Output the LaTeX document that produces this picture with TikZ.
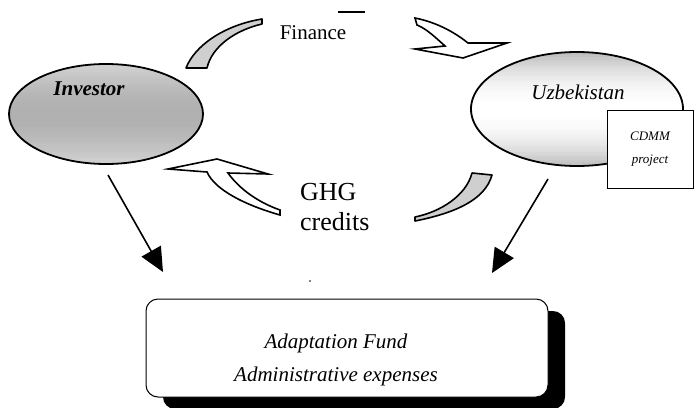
\documentclass[tikz,border=0pt]{standalone}
\usepackage{fontspec}
\setmainfont{Liberation Serif}
\usetikzlibrary{shapes.geometric,arrows.meta}
\begin{document}
\begin{tikzpicture}[x=1pt,y=-1pt,
  oval/.style={ellipse,draw,line width=1.8pt,inner sep=0pt},
  band/.style={draw,line width=1.6pt,line join=round,fill=gray!38},
  hollow/.style={draw,line width=1.6pt,line join=miter,fill=white},
  down/.style={line width=1.6pt,-{Triangle[length=24pt,width=22pt]}},
  lbl/.style={inner sep=0pt,font=\fontsize{21}{24}\selectfont}
]
\useasboundingbox (0,0) rectangle (696,407);

% graded fill of the investor oval, built from thin strips
\begin{scope}
  \clip (106,114) ellipse [x radius=97, y radius=50];
  \foreach \k in {0,...,39} {
    \pgfmathsetmacro\yy{64+\k*2.5}
    \pgfmathsetmacro\g{int(36+26*sin(\k*180/39))}
    \fill[gray!\g] (5,\yy) rectangle (210,\yy+2.6);
  }
\end{scope}
% graded fill of the Uzbekistan oval: gray rims, pale centre
\begin{scope}
  \clip (577,109) ellipse [x radius=106, y radius=57];
  \foreach \k in {0,...,45} {
    \pgfmathsetmacro\yy{52+\k*2.5}
    \pgfmathsetmacro\g{int(52*(abs(2*\k/45-1))^2)}
    \fill[gray!\g] (465,\yy) rectangle (690,\yy+2.6);
  }
\end{scope}

% the two parties
\node[oval,minimum width=194pt,minimum height=100pt] (inv) at (106,114) {};
\node[lbl,font=\fontsize{21}{24}\selectfont\bfseries\itshape] (invtxt) at (89,89) {Investor};

\node[oval,minimum width=212pt,minimum height=114pt] (uzb) at (577,109) {};
\node[lbl,font=\fontsize{21}{24}\selectfont\itshape] (uzbtxt) at (578,92) {Uzbekistan};

% project card
\node[draw,line width=1pt,fill=white,minimum width=86pt,minimum height=78pt,inner sep=0pt,
      align=center,font=\fontsize{13}{23}\selectfont\itshape] (cdmm) at (650,149)
      {CDMM\\project};

% flow labels
\node[lbl] (fin) at (313,33) {Finance};
\coordinate (dashA) at (338,12);
\coordinate (dashB) at (365,12);
\draw[line width=1.2pt] (dashA) -- (dashB);
\node[inner sep=0pt,anchor=west,align=left,font=\fontsize{26}{30}\selectfont] (ghg) at (300,207) {GHG\\credits};

% finance: gray band and open arrow
\draw[band] (186,68) .. controls (195,45) and (225,25) .. (262,19) -- (262,24)
  .. controls (236,30) and (212,46) .. (207,68) -- cycle;
\draw[hollow] (415,18) .. controls (440,23) and (458,35) .. (468,43) -- (507,43)
  -- (463,58) -- (415,49) -- (445,46) .. controls (436,38) and (427,29) .. (417,25) -- cycle;

% credits: gray band and open arrow
\draw[band] (415,217) .. controls (440,212) and (466,196) .. (472,173) -- (492,175)
  .. controls (485,200) and (455,213) .. (415,221) -- cycle;
\draw[hollow] (168,169) -- (217,159) -- (268,174) -- (228,173)
  .. controls (240,190) and (260,203) .. (280,210) -- (280,215)
  .. controls (245,205) and (215,190) .. (207,172) -- cycle;

% fund box with its shadow
\fill[black,rounded corners=12pt] (163,311) rectangle (565,409);
\node[draw,line width=1pt,fill=white,rounded corners=12pt,minimum width=402pt,
      minimum height=98pt,inner sep=0pt] (fund) at (347,348) {};
\node[inner sep=0pt,align=center,font=\fontsize{21}{33}\selectfont\itshape] (fundtxt) at (336,360)
  {Adaptation Fund\\Administrative expenses};
\fill (310,281) circle (0.8);

% contributions to the fund
\coordinate (invout) at (108,175);
\coordinate (invin) at (163,272);
\coordinate (uzbout) at (548,179);
\coordinate (uzbin) at (492,273);
\draw[down] (invout) -- (invin);
\draw[down] (uzbout) -- (uzbin);
\end{tikzpicture}
\end{document}
